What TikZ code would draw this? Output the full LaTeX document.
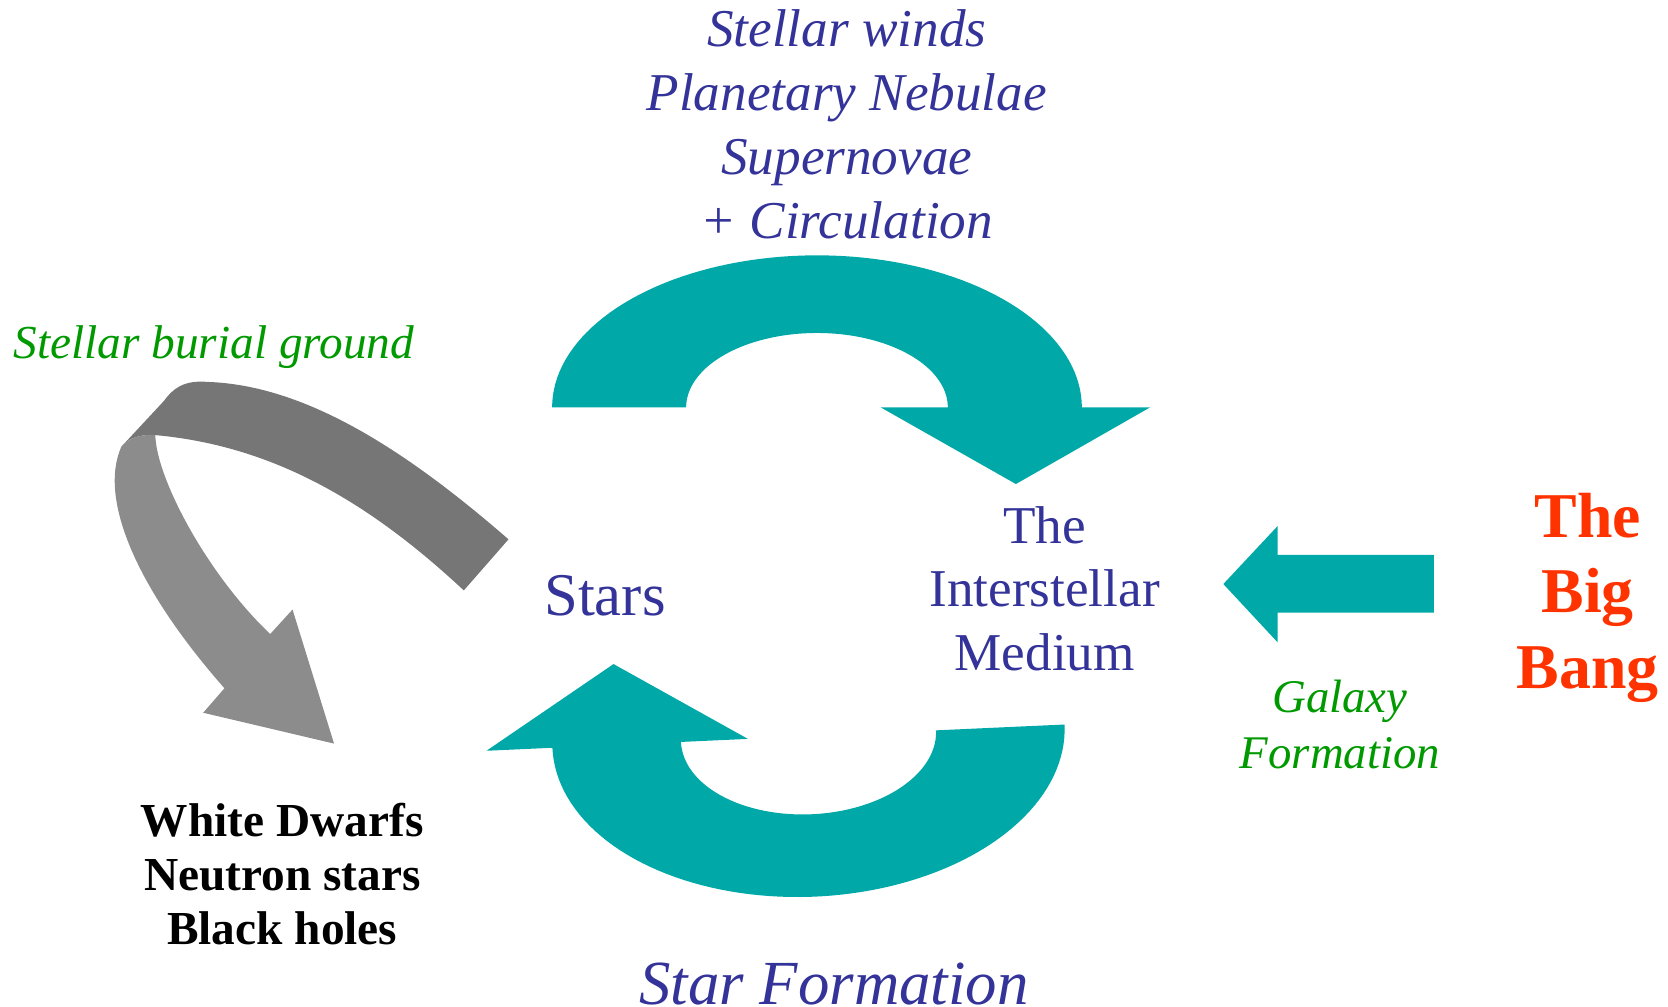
\documentclass[tikz,border=0pt]{standalone}
\usepackage{fontspec}
\setmainfont{Liberation Serif}
\usepackage{xcolor}
\usepackage{tikz}
\usetikzlibrary{positioning}

\definecolor{cycleteal}{RGB}{0,168,168}
\definecolor{starblue}{RGB}{51,51,153}
\definecolor{burialgreen}{RGB}{0,153,0}
\definecolor{bangred}{RGB}{255,51,0}
\definecolor{graydark}{RGB}{118,118,118}
\definecolor{graylight}{RGB}{140,140,140}

\begin{document}
\begin{tikzpicture}[x=1pt,y=-1pt,
    lbl/.style={inner sep=0pt, anchor=base, align=center},
    flow/.style={fill=cycleteal}]
    \useasboundingbox (0,0) rectangle (1568,946);

    % upper cycle arrow: stars -> ISM
    \fill[flow] plot[domain=180:360,samples=80] ({768+249*cos(\x)},{383+143*sin(\x)})
        -- (1081,383) -- (955,455) -- (828,383)
        -- plot[domain=360:180,samples=80] ({768+123*cos(\x)},{383+70*sin(\x)}) -- cycle;

    % lower cycle arrow: ISM -> stars
    \begin{scope}[rotate around={2.6:(760,692)}]
        \fill[flow] plot[domain=0:180,samples=80] ({760+241*cos(\x)},{692+151*sin(\x)})
            -- (457,692) -- (580,616) -- (703,692)
            -- plot[domain=180:0,samples=80] ({760+120*cos(\x)},{692+73.5*sin(\x)}) -- cycle;
    \end{scope}

    % galaxy formation arrow
    \fill[flow] (1150,549) -- (1201,494.5) -- (1201,521.7) -- (1348,521.7)
        -- (1348,576) -- (1201,576) -- (1201,603.8) -- cycle;

    % grey ribbon arrow to the remnants
    \fill[graydark] (478,507) .. controls (378,420) and (285,362) .. (195,359)
        .. controls (172,357) and (162,366) .. (154,377) -- (114,420)
        .. controls (120,412) and (132,408) .. (146,409)
        .. controls (256,419) and (346,471) .. (436,555) -- cycle;
    \fill[graylight] (114,420) .. controls (120,412) and (132,408) .. (146,409)
        .. controls (147,450) and (195,540) .. (254,596)
        -- (275,573) -- (314,699) -- (191,670) -- (211,647)
        .. controls (130,555) and (92,470) .. (114,420) -- cycle;

    % labels (multi-line nodes sit on their last baseline)
    \node[lbl, text=starblue, font={\fontsize{50}{60}\selectfont\itshape}] (winds) at (796,224)
        {Stellar winds\\Planetary Nebulae\\Supernovae\\+ Circulation};
    \node[lbl, text=starblue, font={\fontsize{57}{68}\selectfont}] (stars) at (568.7,579) {Stars};
    \node[lbl, text=starblue, font={\fontsize{50}{60}\selectfont}] (ism) at (982,630.5)
        {The\\Interstellar\\Medium};
    \node[lbl, font={\fontsize{44.5}{51}\selectfont\bfseries}] (remnants) at (265.4,888.3)
        {White Dwarfs\\Neutron stars\\Black holes};
    \node[lbl, text=starblue, font={\fontsize{59}{70}\selectfont\itshape}] (starform) at (784,944.7)
        {Star Formation};
    \node[lbl, text=burialgreen, font={\fontsize{44.5}{53}\selectfont\itshape}] (burial) at (201,336.8)
        {Stellar burial ground};
    \node[lbl, text=burialgreen, font={\fontsize{44}{52}\selectfont\itshape}] (galaxy) at (1259.6,722)
        {Galaxy\\Formation};
    \node[lbl, text=bangred, font={\fontsize{60}{71}\selectfont\bfseries}] (bigbang) at (1492.5,647)
        {The\\Big\\Bang};
\end{tikzpicture}
\end{document}
